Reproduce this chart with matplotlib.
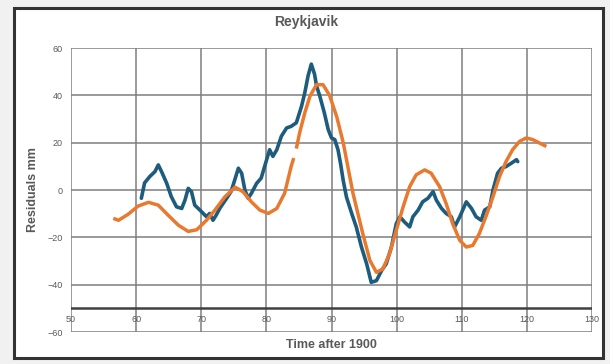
import matplotlib
matplotlib.use("Agg")
import matplotlib.pyplot as plt
from matplotlib.patches import Rectangle
import numpy as np

# blue series: measured residuals
years_obs = [60.8, 61.3, 62.1, 62.9, 63.4, 63.9, 64.7, 65.4, 66.2, 67.0, 67.5, 68.0,
             68.5, 69.0, 69.8, 70.8, 71.3, 71.8, 72.3, 72.9, 73.9, 74.6, 75.0, 75.7,
             76.2, 76.7, 77.2, 77.7, 78.5, 79.2, 79.8, 80.5, 81.0, 81.6, 82.3, 83.1,
             83.8, 84.6, 85.4, 85.9, 86.4, 86.9, 87.4, 87.7, 88.2, 88.9, 89.5, 90.0,
             90.5, 91.0, 91.4, 91.8, 92.3, 93.1, 93.8, 94.6, 95.4, 96.1, 96.9, 97.7,
             98.4, 99.2, 99.95, 100.5, 101.2, 102.0, 102.5, 103.3, 104.0, 104.8, 105.6,
             106.1, 106.9, 107.6, 108.4, 108.9, 109.7, 110.7, 111.5, 112.2, 113.0,
             113.5, 114.3, 114.8, 115.5, 116.1, 116.8, 117.6, 118.4, 118.6]
resid_obs = [-3.5, 3, 5.7, 7.8, 10.6, 7.8, 2.8, -2.8, -7.1, -7.8, -4.3, 0.7,
             -0.7, -6.4, -8.5, -11.3, -9.9, -12.8, -10.6, -7.5, -3.5, -0.5, 3, 9.2,
             7.1, 0, -3.5, -1.4, 2.8, 5, 10.6, 17, 14.2, 17, 22.7, 26.2,
             26.9, 28.4, 35.4, 41.1, 48.2, 53.2, 48.9, 44, 39.7, 32.6, 25.5, 22,
             21.3, 17, 11, 4, -3, -9.9, -15.6, -24.1, -31.2, -39, -38.3, -34,
             -31.2, -24.1, -14.2, -11.3, -13.5, -15.6, -11.3, -8.5, -5, -3.5, -0.7,
             -4.3, -7.8, -9.9, -11.3, -15.6, -11.3, -5, -7.8, -11.3, -12.8,
             -8.5, -7.1, 0, 7.1, 9.2, 9.9, 11.3, 12.8, 12]

# orange series: fitted model
years_fit = [56.5, 57.3, 58.8, 60.3, 61.9, 63.4, 64.9, 66.5, 68.0, 69.3, 70.8, 72.1,
             73.6, 75.2, 76.4, 77.7, 79.0, 80.3, 81.6, 82.8, 83.8, 84.2, np.nan, 84.6,
             85.1, 85.9, 86.7, 87.7, 88.7, 89.7, 90.8, 91.8, 93.3, 94.8, 95.9, 96.9,
             97.9, 98.9, 99.95, 101.0, 102.0, 103.0, 104.3, 105.3, 106.6, 107.6, 108.6,
             109.7, 110.7, 111.7, 112.7, 113.7, 114.8, 115.8, 116.8, 117.8, 118.9,
             119.9, 120.9, 121.9, 123.0]
resid_fit = [-12, -12.8, -10.2, -6.8, -5.2, -6.4, -10.6, -14.9, -17.5, -16.8, -12.8, -8.5,
             -3, 1.2, -0.7, -5, -8.5, -9.9, -7.8, -1.4, 9.9, 13.5, np.nan, 17.5,
             24.1, 32.6, 39.7, 44.5, 44.5, 40, 31, 20, -1.4, -18.4, -29.8, -34.8,
             -33.3, -27, -17, -7.1, 1.4, 6.4, 8.5, 7.1, 1.4, -5.7, -14.2,
             -21.3, -24.1, -23.4, -18.4, -11.3, -2.8, 5.7, 12, 17, 20.6,
             22, 21.3, 19.9, 18.4]

x_ticks = [50, 60, 70, 80, 90, 100, 110, 120, 130]
y_ticks = [-60, -40, -20, 0, 20, 40, 60]

plt.rcParams['font.family'] = ['Liberation Sans', 'DejaVu Sans']
txt = '#595959'

fig = plt.figure(figsize=(6.10, 3.64), dpi=100, facecolor='#f1f1f1')
fig.patches.append(Rectangle((14/610, 1-358/364), 589/610, 350/364, transform=fig.transFigure,
                             facecolor='white', edgecolor='#333333', lw=2.2, zorder=-10))

ax = fig.add_axes([71/610, 1-332/364, 521/610, 284/364])
ax.set_facecolor('none')
ax.set_xlim(50, 130)
ax.set_ylim(-60, 60)
ax.set_xticks(x_ticks)
ax.set_yticks(y_ticks)
ax.grid(True, color='#7f7f7f', lw=1.1)
ax.set_axisbelow(True)
for s in ax.spines.values():
    s.set_visible(False)
ax.axhline(-50, color='#404040', lw=1.8, zorder=1)
ax.tick_params(length=0, labelsize=6.5, labelcolor=txt)
ax.tick_params(axis='x', pad=-12)
ax.tick_params(axis='y', pad=6)

ax.plot(years_obs, resid_obs, color='#1d5c7d', lw=2.6, solid_capstyle='round',
        solid_joinstyle='round', zorder=3)
ax.plot(years_fit, resid_fit, color='#e9792f', lw=2.5, solid_capstyle='butt',
        solid_joinstyle='round', zorder=4)

fig.text(306/610, 1-22/364, 'Reykjavik', ha='center', va='center', fontsize=10,
         fontweight='bold', color=txt)
fig.text(331/610, 1-345/364, 'Time after 1900', ha='center', va='center', fontsize=9,
         fontweight='bold', color=txt)
fig.text(33/610, 1-190/364, 'Residuals mm', ha='center', va='center', fontsize=9,
         fontweight='bold', color=txt, rotation=90)

fig.savefig('out.png', dpi=100, facecolor=fig.get_facecolor())
